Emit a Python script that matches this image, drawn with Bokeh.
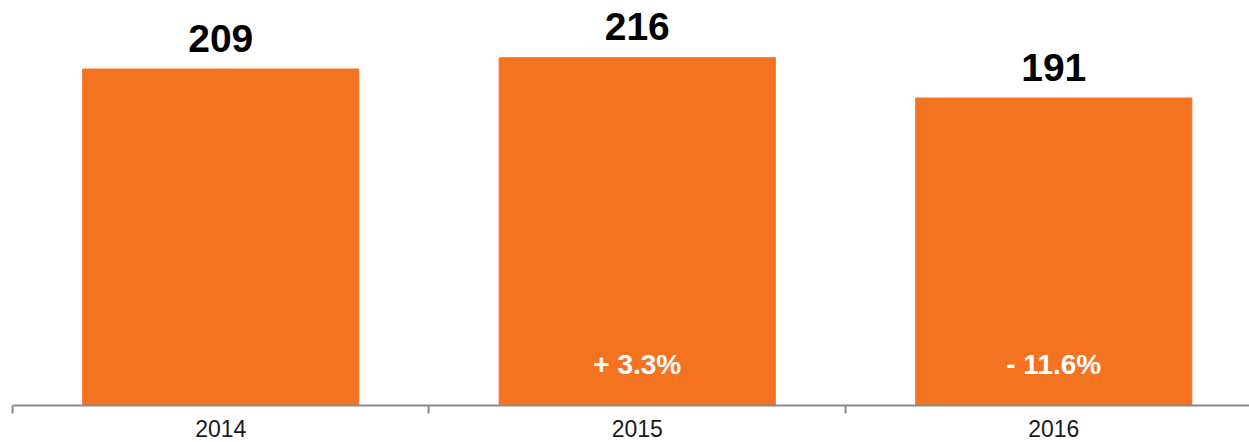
from bokeh.plotting import figure
from bokeh.models import Range1d, FixedTicker, ColumnDataSource
from bokeh.core.properties import value
from bokeh.embed import file_html
from bokeh.resources import INLINE

years = ["2014", "2015", "2016"]
values = [209, 216, 191]
changes = ["", "+ 3.3%", "- 11.6%"]

xs = [i + 0.5 for i in range(len(years))]
src = ColumnDataSource(dict(x=xs, top=values, lab=[str(v) for v in values], chg=changes))

p = figure(width=1249, height=442, output_backend="svg", toolbar_location=None,
           x_range=Range1d(0, 2.97), y_range=Range1d(0, 246.6),
           y_axis_location=None, min_border_left=12, min_border_right=0,
           min_border_top=8, min_border_bottom=37)
p.outline_line_color = None
p.xgrid.visible = False
p.ygrid.visible = False
p.background_fill_color = "white"
p.border_fill_color = "white"

p.vbar(x="x", top="top", width=0.663, bottom=0, source=src, color="#F37321")

p.text(x="x", y="top", text="lab", source=src, text_align="center",
       text_baseline="alphabetic", y_offset=-31, text_font=value("Liberation Sans"),
       text_font_style="bold", text_font_size="39px", text_color="black")
p.text(x="x", y=0, text="chg", source=src, text_align="center",
       text_baseline="alphabetic", y_offset=-41, text_font=value("Liberation Sans"),
       text_font_style="bold", text_font_size="28px", text_color="white")

ax = p.xaxis[0]
ax.ticker = FixedTicker(ticks=xs, minor_ticks=[0, 1, 2, 3])
ax.major_label_overrides = {x: y for x, y in zip(xs, years)}
ax.major_tick_line_color = None
ax.major_tick_out = 0
ax.major_tick_in = 0
ax.minor_tick_line_color = "#8a8a8a"
ax.minor_tick_line_width = 2
ax.minor_tick_out = 8
ax.minor_tick_in = 0
ax.axis_line_color = "#8a8a8a"
ax.axis_line_width = 2
ax.major_label_text_font = "Liberation Sans"
ax.major_label_text_font_size = "23px"
ax.major_label_text_color = "#1a1a1a"
ax.major_label_standoff = 6

open("out.html", "w").write(file_html(p, INLINE))
